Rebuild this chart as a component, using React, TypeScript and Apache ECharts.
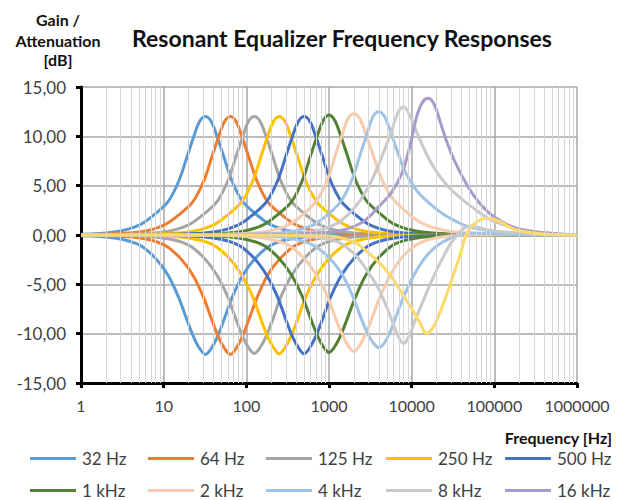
import React, { useEffect, useRef } from 'react';
import * as echarts from 'echarts';

type Pt = [number, number];

const legendRow1 = ['32 Hz', '64 Hz', '125 Hz', '250 Hz', '500 Hz'];
const legendRow2 = ['1 kHz', '2 kHz', '4 kHz', '8 kHz', '16 kHz'];
const bandColors = ['#5B9BD5', '#ED7D31', '#A5A5A5', '#FFC000', '#4472C4', '#548235', '#F8CBAD', '#9DC3E6', '#C9C9C9', '#A99BCB'];
const lastCutColor = '#FFD966';

// Boost (gain) responses, [frequency Hz, dB]
const boost32: Pt[] = [[1,0.08],[2.54,0.3],[5.07,1.0],[8.04,2.2],[11.36,3.4],[15.3,5.5],[19.3,8.0],[23.2,10.0],[27.2,11.5],[32,12.0],[37.6,11.5],[44.2,10.0],[53.1,8.0],[66.8,5.5],[90.2,3.4],[127,2.2],[202,1.0],[403,0.3],[1274,0.07],[1000000,0]];
const boost64: Pt[] = [[1,0.04],[5.08,0.3],[10.1,1.0],[16.1,2.2],[22.7,3.4],[30.6,5.5],[38.6,8.0],[46.4,10.0],[54.5,11.5],[64,12.0],[75.2,11.5],[88.3,10.0],[106,8.0],[134,5.5],[180,3.4],[255,2.2],[404,1.0],[806,0.3],[2547,0.07],[1000000,0]];
const boost125: Pt[] = [[1,0.02],[3.14,0.07],[9.93,0.3],[19.8,1.0],[31.4,2.2],[44.4,3.4],[59.8,5.5],[75.3,8.0],[90.6,10.0],[106,11.5],[125,12.0],[147,11.5],[173,10.0],[208,8.0],[261,5.5],[352,3.4],[498,2.2],[789,1.0],[1574,0.3],[4975,0.07],[1000000,0]];
const boost250: Pt[] = [[1,0.01],[6.28,0.07],[19.9,0.3],[39.6,1.0],[62.8,2.2],[88.7,3.4],[120,5.5],[151,8.0],[181,10.0],[213,11.5],[250,12.0],[294,11.5],[345,10.0],[415,8.0],[522,5.5],[705,3.4],[995,2.2],[1578,1.0],[3148,0.3],[9950,0.07],[1000000,0]];
const boost500: Pt[] = [[1,0],[12.6,0.07],[39.7,0.3],[79.2,1.0],[126,2.2],[177,3.4],[239,5.5],[301,8.0],[362,10.0],[426,11.5],[500,12.0],[588,11.5],[690,10.0],[830,8.0],[1045,5.5],[1409,3.4],[1990,2.2],[3155,1.0],[6295,0.3],[19900,0.07],[1000000,0]];
const boost1k: Pt[] = [[1,0],[25.1,0.07],[79.4,0.3],[158,1.0],[251,2.2],[355,3.4],[479,5.6],[602,8.1],[725,10.1],[851,11.6],[1000,12.15],[1175,11.6],[1380,10.1],[1660,8.1],[2089,5.6],[2818,3.5],[3981,2.3],[6310,1.05],[12590,0.33],[39810,0.08],[1000000,0]];
const boost2k: Pt[] = [[1,0],[50.3,0.07],[159,0.3],[317,1.0],[503,2.2],[710,3.5],[957,5.6],[1205,8.2],[1449,10.2],[1702,11.8],[2000,12.3],[2350,11.8],[2760,10.3],[3320,8.4],[4178,6.0],[5636,3.9],[7962,2.6],[12620,1.3],[25180,0.45],[79620,0.1],[1000000,0]];
const boost4k: Pt[] = [[1,0],[101,0.07],[318,0.3],[634,1.0],[1005,2.2],[1419,3.5],[1915,5.7],[2410,8.3],[2899,10.3],[3404,12.0],[4000,12.5],[4700,12.0],[5520,10.5],[6640,8.6],[8356,6.4],[11270,4.6],[15920,3.3],[25240,2.0],[50360,0.8],[159200,0.2],[1000000,0]];
const boost8k: Pt[] = [[1,0],[201,0.08],[635,0.35],[1268,1.2],[2010,2.7],[2839,4.5],[3830,6.8],[4819,8.9],[5797,10.7],[6809,12.4],[8000,13.0],[9400,12.2],[11040,10.8],[13280,9.2],[16710,7.5],[22540,5.8],[31850,4.4],[50480,3.0],[100700,1.35],[318500,0.3],[1000000,0]];
const boost16k: Pt[] = [[1,0],[402,0.1],[1271,0.4],[2536,1.3],[4020,2.9],[5678,4.3],[7659,6.3],[9639,9.2],[11590,12.1],[13620,13.5],[16000,13.85],[18800,13.2],[22080,11.5],[26560,9.45],[33420,7.4],[45090,5.3],[63700,3.4],[101000,1.8],[201400,0.6],[636800,0.1],[1000000,0.05]];

// Cut (attenuation) responses, [frequency Hz, dB]
const cut32: Pt[] = [[1,-0.07],[2.54,-0.3],[5.07,-1.0],[8.04,-2.4],[11.36,-4.1],[15.3,-6.4],[19.3,-8.7],[23.2,-10.4],[27.2,-11.5],[32,-12.1],[37.6,-11.5],[44.2,-10.4],[53.1,-8.7],[66.8,-6.4],[90.2,-4.1],[127,-2.4],[202,-1.0],[403,-0.3],[1274,-0.05],[1000000,0]];
const cut64: Pt[] = [[1,-0.03],[5.08,-0.3],[10.1,-1.0],[16.1,-2.4],[22.7,-4.1],[30.6,-6.4],[38.6,-8.7],[46.4,-10.4],[54.5,-11.5],[64,-12.1],[75.2,-11.5],[88.3,-10.4],[106,-8.7],[134,-6.4],[180,-4.1],[255,-2.4],[404,-1.0],[806,-0.3],[2547,-0.05],[1000000,0]];
const cut125: Pt[] = [[1,-0.01],[3.14,-0.05],[9.93,-0.3],[19.8,-1.0],[31.4,-2.4],[44.4,-4.1],[59.8,-6.3],[75.3,-8.6],[90.6,-10.3],[106,-11.4],[125,-12.0],[147,-11.4],[173,-10.3],[208,-8.6],[261,-6.3],[352,-4.1],[498,-2.4],[789,-1.0],[1574,-0.3],[4975,-0.05],[1000000,0]];
const cut250: Pt[] = [[1,0],[6.28,-0.05],[19.9,-0.3],[39.6,-1.0],[62.8,-2.4],[88.7,-4.1],[120,-6.3],[151,-8.6],[181,-10.3],[213,-11.4],[250,-12.05],[294,-11.4],[345,-10.3],[415,-8.6],[522,-6.3],[705,-4.1],[995,-2.4],[1578,-1.0],[3148,-0.3],[9950,-0.05],[1000000,0]];
const cut500: Pt[] = [[1,0],[12.6,-0.05],[39.7,-0.3],[79.2,-1.0],[126,-2.4],[177,-4.1],[239,-6.3],[301,-8.6],[362,-10.3],[426,-11.4],[500,-12.05],[588,-11.4],[690,-10.3],[830,-8.6],[1045,-6.3],[1409,-4.1],[1990,-2.4],[3155,-1.0],[6295,-0.3],[19900,-0.05],[1000000,0]];
const cut1k: Pt[] = [[1,0],[25.1,-0.05],[79.4,-0.3],[158,-1.0],[251,-2.4],[355,-4.1],[479,-6.3],[602,-8.5],[725,-10.2],[851,-11.3],[1000,-11.9],[1175,-11.3],[1380,-10.2],[1660,-8.5],[2089,-6.3],[2818,-4.0],[3981,-2.3],[6310,-0.9],[12590,-0.25],[39810,-0.05],[1000000,0]];
const cut2k: Pt[] = [[1,0],[50.3,-0.05],[159,-0.3],[317,-1.0],[503,-2.4],[710,-4.1],[957,-6.2],[1205,-8.5],[1449,-10.1],[1702,-11.2],[2000,-11.8],[2350,-11.2],[2760,-10.1],[3320,-8.4],[4178,-6.2],[5636,-3.9],[7962,-2.1],[12620,-0.8],[25180,-0.15],[79620,0],[1000000,0]];
const cut4k: Pt[] = [[1,0],[101,-0.05],[318,-0.3],[634,-1.0],[1005,-2.3],[1419,-3.9],[1915,-6.1],[2410,-8.3],[2899,-9.9],[3404,-10.9],[4000,-11.4],[4700,-10.9],[5520,-9.8],[6640,-8.0],[8356,-5.9],[11270,-3.7],[15920,-1.9],[25240,-0.6],[50360,0.2],[159200,0.05],[1000000,0]];
const cut8k: Pt[] = [[1,0],[201,-0.05],[635,-0.2],[1268,-0.7],[2010,-1.9],[2839,-3.5],[3830,-5.2],[4819,-7.0],[5797,-8.7],[6809,-10.2],[8000,-11.0],[9400,-10.2],[11040,-8.6],[13280,-7.0],[16710,-5.0],[22540,-2.7],[31850,-0.5],[50480,0.9],[100700,0.4],[318500,0.1],[1000000,0]];
const cut16k: Pt[] = [[1,0],[100,0],[1000,-0.1],[1995,-0.7],[2818,-1.6],[4169,-2.9],[5623,-4.2],[7244,-5.6],[9550,-7.2],[12590,-8.9],[15140,-10.0],[17380,-9.6],[20180,-8.6],[24550,-6.8],[29510,-4.9],[38900,-1.9],[46770,0.2],[61660,1.35],[85110,1.7],[117500,1.35],[186200,0.5],[478600,0.05],[1000000,0]];

const boostData = [boost32, boost64, boost125, boost250, boost500, boost1k, boost2k, boost4k, boost8k, boost16k];
const cutData = [cut32, cut64, cut125, cut250, cut500, cut1k, cut2k, cut4k, cut8k, cut16k];
const bandNames = [...legendRow1, ...legendRow2];

const legendColumns = [30, 148, 266, 386, 505];
const legendRowsTop = [450, 482];

export default function App() {
  const ref = useRef<HTMLDivElement>(null);
  useEffect(() => {
    document.body.style.margin = '0';
    if (!ref.current) return;
    const chart = echarts.init(ref.current, undefined, { renderer: 'svg' });

    const minorTicks: number[] = [];
    for (let p = 1; p < 1000000; p *= 10) {
      for (let m = 2; m <= 9; m++) minorTicks.push(m * p);
    }

    const series: any[] = [
      {
        name: 'minor-grid',
        type: 'line',
        data: [[1, 0]],
        showSymbol: false,
        symbol: 'none',
        lineStyle: { width: 0, opacity: 0 },
        silent: true,
        z: 1,
        markLine: {
          silent: true,
          symbol: ['none', 'none'],
          label: { show: false },
          lineStyle: { color: '#D6D6D6', width: 1, type: 'solid' },
          emphasis: { disabled: true },
          data: minorTicks.map((v) => ({ xAxis: v })),
        },
      },
    ];
    boostData.forEach((d, i) => {
      series.push({
        name: bandNames[i],
        type: 'line',
        data: d,
        smooth: 0.35,
        symbol: 'none',
        z: 3,
        color: bandColors[i],
        lineStyle: { width: 3, color: bandColors[i] },
      });
    });
    cutData.forEach((d, i) => {
      const c = i === 9 ? lastCutColor : bandColors[i];
      series.push({
        name: bandNames[i] + ' cut',
        type: 'line',
        data: d,
        smooth: 0.35,
        symbol: 'none',
        z: 3,
        color: c,
        lineStyle: { width: 3, color: c },
      });
    });

    const legends: any[] = [];
    [legendRow1, legendRow2].forEach((row, r) => {
      row.forEach((name, c) => {
        legends.push({
          data: [name],
          left: legendColumns[c],
          top: legendRowsTop[r],
          padding: 0,
          icon: 'rect',
          itemWidth: 46,
          itemHeight: 3,
          itemGap: 0,
          selectedMode: false,
          textStyle: { fontFamily: 'Lato', fontSize: 17, color: '#404040', padding: [0, 0, 0, 1] },
        });
      });
    });

    const option: any = {
      animation: false,
      backgroundColor: '#ffffff',
      grid: { left: 81, top: 87, right: 50, bottom: 117, containLabel: false },
      legend: legends,
      xAxis: {
        type: 'log',
        logBase: 10,
        min: 1,
        max: 1000000,
        axisLine: { show: true, onZero: false, lineStyle: { color: '#000', width: 3 } },
        axisTick: { show: true, length: 5, lineStyle: { color: '#000', width: 3 } },
        axisLabel: {
          show: true,
          margin: 14,
          fontFamily: 'Lato',
          fontSize: 16,
          color: '#404040',
          showMinLabel: true,
          showMaxLabel: true,
          formatter: (v: number) => String(Math.round(v)),
        },
        splitLine: { show: true, lineStyle: { color: '#A6A6A6', width: 1.5 } },
      },
      yAxis: {
        type: 'value',
        min: -15,
        max: 15,
        interval: 5,
        axisLine: { show: true, onZero: false, lineStyle: { color: '#000', width: 3 } },
        axisTick: { show: true, length: 5, lineStyle: { color: '#000', width: 3 } },
        axisLabel: {
          margin: 15,
          fontFamily: 'Lato',
          fontSize: 17,
          color: '#404040',
          formatter: (v: number) => v.toFixed(2).replace('.', ','),
        },
        splitLine: { show: true, lineStyle: { color: '#A6A6A6', width: 1.5 } },
      },
      graphic: [
        { type: 'text', x: 342, y: 38, style: { text: 'Resonant Equalizer Frequency Responses', fontFamily: 'Lato', fontWeight: 'bold', fontSize: 23, fill: '#111', align: 'center', verticalAlign: 'middle' } },
        { type: 'text', x: 58, y: 19, style: { text: 'Gain /', fontFamily: 'Lato', fontWeight: 'bold', fontSize: 16, fill: '#111', align: 'center', verticalAlign: 'middle' } },
        { type: 'text', x: 58, y: 40, style: { text: 'Attenuation', fontFamily: 'Lato', fontWeight: 'bold', fontSize: 16, fill: '#111', align: 'center', verticalAlign: 'middle' } },
        { type: 'text', x: 58, y: 59, style: { text: '[dB]', fontFamily: 'Lato', fontWeight: 'bold', fontSize: 16, fill: '#111', align: 'center', verticalAlign: 'middle' } },
        { type: 'text', x: 612, y: 437, style: { text: 'Frequency [Hz]', fontFamily: 'Lato', fontWeight: 'bold', fontSize: 16, fill: '#111', align: 'right', verticalAlign: 'middle' } },
      ],
      series,
    };
    chart.setOption(option);
    return () => chart.dispose();
  }, []);
  return <div ref={ref} style={{ width: 627, height: 500 }} />;
}
